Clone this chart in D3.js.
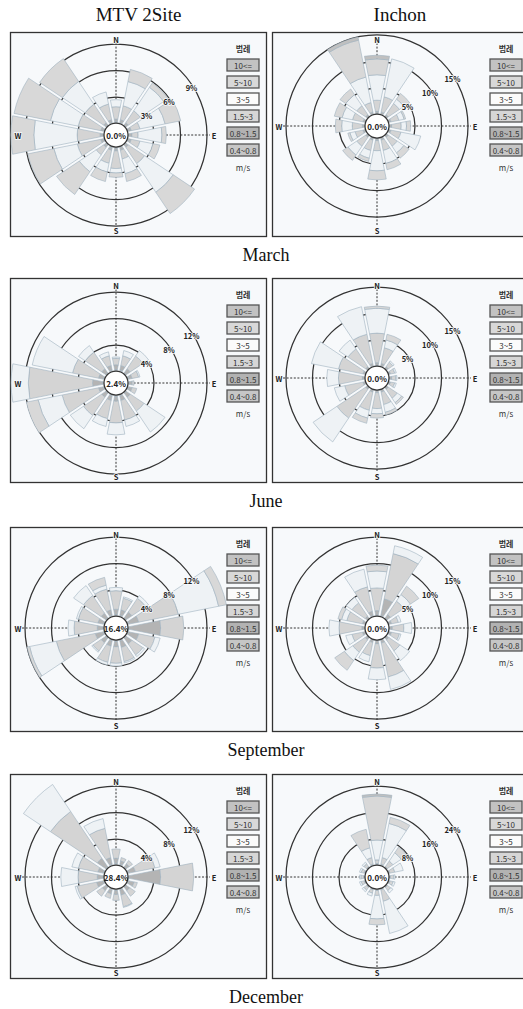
<!DOCTYPE html>
<html><head><meta charset="utf-8">
<script src="https://cdn.jsdelivr.net/npm/d3@7"></script>
<style>body{margin:0;background:#fff}</style>
</head><body>
<svg id="c" width="523" height="1009"></svg>
<script>
const directions = ["N","NNE","NE","ENE","E","ESE","SE","SSE","S","SSW","SW","WSW","W","WNW","NW","NNW"];
const speedClasses = ["0.4~0.8","0.8~1.5","1.5~3","3~5","5~10","10<="];
const legendLabels = ["10<=","5~10","3~5","1.5~3","0.8~1.5","0.4~0.8"];
const months = ["March","June","September","December"];
const sites = ["MTV 2Site","Inchon"];
const calmLabels = [["0.0%","0.0%"],["2.4%","0.0%"],["16.4%","0.0%"],["28.4%","0.0%"]];
const ringTicks = [[[3,6,9],[5,10,15]],[[4,8,12],[5,10,15]],[[4,8,12],[5,10,15]],[[4,8,12],[8,16,24]]];

// frequency (%) per direction (rows = directions), columns = speedClasses
const mtvMarch = [
 [0.2,0.3,1.4,0.8,0,0],[0.2,0.3,1.6,2.8,1.4,0],[0.2,0.3,1.6,3.2,0.6,0],[0.2,0.3,1.0,2.9,1.8,0],
 [0.2,0.3,0.7,2.7,0.5,0],[0.2,0.3,1.0,1.5,0.8,0],[0.2,0.3,2.2,3.9,2.9,0],[0.2,0.3,1.0,1.7,0.9,0],
 [0.2,0.3,2.0,0.5,0.5,0],[0.2,0.3,1.5,1.0,1.1,0],[0.2,0.3,1.0,2.3,3.1,0],[0.2,0.3,2.7,2.7,3.0,0],
 [0.2,0.3,2.6,4.9,2.6,0],[0.2,0.3,2.6,3.2,4.2,0],[0.2,0.3,2.5,3.1,3.1,0],[0.2,0.3,1.8,1.4,0,0]];
const inchonMarch = [
 [0.2,0.4,2.1,4.8,3.0,0.7],[0.2,0.4,2.9,7.3,0,0],[0.2,0.4,2.5,1.0,1.3,0],[0.2,0.4,1.5,1.0,0.3,0],
 [0.2,0.4,1.8,1.0,0.8,0],[0.2,0.4,1.9,3.8,0,0],[0.2,0.4,2.0,1.5,1.2,0],[0.2,0.4,2.0,2.5,1.2,0],
 [0.2,0.4,1.9,3.8,1.7,0],[0.2,0.4,2.0,1.5,0.6,0],[0.2,0.4,2.0,2.0,1.2,0],[0.2,0.4,1.5,1.0,0.4,0],
 [0.2,0.4,1.9,2.0,1.2,0],[0.2,0.4,2.0,2.0,1.5,0],[0.2,0.4,2.0,2.5,1.3,0],[0.2,0.4,1.8,4.9,7.1,0.6]];
const mtvJune = [
 [0.3,0.7,1.0,0.2,0,0],[0.3,0.7,1.5,0.8,0,0],[0.3,0.7,2.3,1.0,0,0],[0.3,0.5,1.0,0.2,0,0],
 [0.3,0.4,0.3,0,0,0],[0.3,0.5,0.7,0,0,0],[0.3,0.7,2.5,3.8,0,0],[0.3,0.7,3.0,1.0,0,0],
 [0.3,0.7,3.3,1.8,0,0],[0.3,0.7,2.8,1.2,0,0],[0.3,0.7,3.3,2.4,0,0],[0.3,0.7,5.6,3.7,1.8,0],
 [0.3,1.5,9.7,2.6,0,0],[0.3,0.7,4.0,6.2,0,0],[0.3,0.7,3.0,1.2,0,0],[0.3,0.7,1.5,0.6,0,0]];
const inchonJune = [
 [0.2,0.5,5.6,4.7,0.4,0],[0.2,0.5,3.0,1.5,1.1,0],[0.2,0.4,1.0,0.3,0,0],[0.2,0.3,0.8,0.3,0,0],
 [0.2,0.4,0.8,0.2,0,0],[0.2,0.3,0.8,0.3,0,0],[0.2,0.4,2.0,1.0,0.4,0],[0.2,0.4,2.4,1.5,0.5,0],
 [0.2,0.4,3.0,1.0,0.8,0],[0.2,0.4,3.5,1.5,1.0,0],[0.2,0.4,6.5,5.4,0,0],[0.2,0.4,3.5,2.0,0,0],
 [0.2,0.4,4.5,2.2,0,0],[0.2,0.4,4.7,5.2,0,0],[0.2,0.4,4.0,2.0,0,0],[0.2,0.5,5.6,5.3,0,0]];
const mtvSeptember = [
 [0.3,0.8,2.8,0.5,0,0],[0.3,0.8,1.8,0.2,0,0],[0.3,1.0,2.5,0.5,0,0],[0.3,1.5,6.1,6.2,1.2,0],
 [0.3,4.7,3.5,0,0,0],[0.3,1.5,2.5,0.8,0,0],[0.3,1.0,2.0,0.3,0,0],[0.3,1.0,2.2,0.2,0,0],
 [0.3,0.8,2.5,0.4,0,0],[0.3,0.8,2.5,0.4,0,0],[0.3,0.8,1.5,0.2,0,0],[0.3,1.2,6.0,4.1,0.4,0],
 [0.3,0.8,3.5,0.9,0,0],[0.3,0.8,3.0,0.3,0,0],[0.3,0.8,3.2,1.8,0,0],[0.3,0.8,3.2,0.6,1.2,0]];
const inchonSeptember = [
 [0.3,0.8,4.3,3.2,1.1,0],[0.3,3.2,8.7,1.5,0,0],[0.3,0.8,3.0,1.5,1.9,0],[0.2,0.5,1.3,0.5,0,0],
 [0.2,0.5,2.2,1.5,0,0],[0.2,0.5,1.5,0.3,0,0],[0.2,0.5,2.5,2.2,0,0],[0.2,0.6,6.5,2.4,0,0],
 [0.2,0.6,4.6,2.2,0,0],[0.2,0.5,2.5,1.2,0,0],[0.2,0.5,2.8,1.9,2.2,0],[0.2,0.5,2.0,1.2,0,0],
 [0.2,0.5,4.3,1.9,0,0],[0.2,0.5,3.0,1.0,0.7,0],[0.2,0.5,3.0,1.3,0,0],[0.3,0.8,4.7,3.4,0,0]];
const mtvDecember = [
 [0.3,0.8,1.4,0,0,0],[0.3,0.5,0.5,0,0,0],[0.3,0.5,0.6,0,0,0],[0.3,1.0,3.0,0.8,0,0],
 [0.3,4.7,5.0,0,0,0],[0.3,0.8,0.5,0,0,0],[0.3,0.6,1.0,0,0,0],[0.3,0.8,1.8,0.1,0,0],
 [0.3,0.6,0.9,0,0,0],[0.3,0.6,0.7,0,0,0],[0.3,0.6,1.0,0,0,0],[0.3,1.0,3.0,0.3,0,0],
 [0.3,0.8,2.9,2.6,0,0],[0.3,0.8,3.0,1.0,0,0],[0.3,1.5,8.5,4.9,0,0],[0.3,1.0,4.5,1.5,0,0]];
const inchonDecember = [
 [0.2,0.4,1.1,6.0,13.3,0.6],[0.2,0.4,2.0,10.5,1.9,0],[0.2,0.4,2.0,3.0,2.1,0],[0.2,0.4,1.5,2.6,0,0],
 [0.2,0.4,1.0,0.4,0,0],[0.2,0.4,1.0,0.6,0,0],[0.2,0.4,1.2,0.8,0,0],[0.2,0.4,3.5,9.9,0,0],
 [0.2,0.4,1.5,7.1,1.8,0],[0.2,0.4,1.0,0.9,0,0],[0.2,0.4,1.0,0.6,0,0],[0.2,0.4,0.9,0.5,0,0],
 [0.2,0.4,0.8,0.4,0,0],[0.2,0.4,0.9,0.5,0,0],[0.2,0.4,1.0,0.6,0,0],[0.2,0.4,2.0,3.0,5.7,0]];

const siteData = [[mtvMarch, inchonMarch],[mtvJune, inchonJune],[mtvSeptember, inchonSeptember],[mtvDecember, inchonDecember]];

const classFill = {"0.4~0.8":"#c4c4c4","0.8~1.5":"#b4b4b4","1.5~3":"#d4d4d4","3~5":"#eef2f5","5~10":"#d8d8d8","10<=":"#c0c0c0"};
const legendFill = {"0.4~0.8":"#c6c6c6","0.8~1.5":"#b2b2b2","1.5~3":"#d6d6d6","3~5":"#fbfbfb","5~10":"#d8d8d8","10<=":"#c2c2c2"};

const svg = d3.select("#c");
const panelTops = [32, 278, 527, 774];
const panelH = 205;
const cols = [{x0:10,x1:267,cx:116,lx:227},{x0:272,x1:528,cx:377,lx:490}];
const cyOff = [[103,94],[105,100],[101,101],[103,103]];
const R0 = 11.5, R1 = 91, CALM_R = 12;
const BG = "#f7f9fb";
const labFont = "'Noto Sans CJK KR','DejaVu Sans',sans-serif";
const serif = "'Liberation Serif','DejaVu Serif',serif";

const arc = d3.arc().padAngle(0.026).padRadius(100);
const half = Math.PI / 16;

sites.forEach((s, j) => {
  svg.append("text").attr("x", (cols[j].x0 + cols[j].x1) / 2).attr("y", 21)
    .attr("text-anchor", "middle").attr("font-family", serif).attr("font-size", 19)
    .attr("fill", "#111").text(s);
});

months.forEach((m, i) => {
  const top = panelTops[i];
  svg.append("text").attr("x", 266).attr("y", top + panelH + 24)
    .attr("text-anchor", "middle").attr("font-family", serif).attr("font-size", 18)
    .attr("fill", "#111").text(m);

  cols.forEach((c, j) => {
    const data = siteData[i][j];
    const ticks = ringTicks[i][j];
    const cx = c.cx, cy = top + cyOff[i][j];
    const r = d3.scaleLinear().domain([0, ticks[ticks.length - 1]]).range([R0, R1]);
    const clipId = "clip" + i + j;
    svg.append("clipPath").attr("id", clipId).append("rect")
      .attr("x", c.x0).attr("y", top).attr("width", c.x1 - c.x0).attr("height", panelH);

    const g = svg.append("g");
    g.append("rect").attr("x", c.x0 + 0.5).attr("y", top + 0.5).attr("width", c.x1 - c.x0 - 1).attr("height", panelH - 1)
      .attr("fill", BG).attr("stroke", "#333").attr("stroke-width", 1.3);

    const inner = g.append("g").attr("clip-path", "url(#" + clipId + ")");
    ticks.forEach(t => {
      inner.append("circle").attr("cx", cx).attr("cy", cy).attr("r", r(t))
        .attr("fill", "none").attr("stroke", "#333").attr("stroke-width", 1.25);
    });
    inner.append("line").attr("x1", cx).attr("x2", cx).attr("y1", top + 11).attr("y2", top + panelH - 12)
      .attr("stroke", "#333").attr("stroke-width", 1).attr("stroke-dasharray", "2,1.6");
    inner.append("line").attr("y1", cy).attr("y2", cy).attr("x1", cx - R1 - 3).attr("x2", cx + R1 + 3)
      .attr("stroke", "#333").attr("stroke-width", 1).attr("stroke-dasharray", "2,1.6");

    const wg = inner.append("g").attr("transform", `translate(${cx},${cy})`);
    data.forEach((row, k) => {
      const a = k * 2 * Math.PI / directions.length;
      let cum = 0;
      row.forEach((v, ci) => {
        if (v <= 0) return;
        const seg = {innerRadius: r(cum), outerRadius: r(cum + v), startAngle: a - half, endAngle: a + half};
        cum += v;
        wg.append("path").attr("d", arc(seg))
          .attr("fill", classFill[speedClasses[ci]])
          .attr("stroke", "#9fb1bf").attr("stroke-width", 0.6);
      });
    });

    const b = 58 * Math.PI / 180;
    ticks.forEach(t => {
      const rr = r(t) - 2;
      inner.append("text").attr("x", cx + rr * Math.sin(b)).attr("y", cy - rr * Math.cos(b))
        .attr("text-anchor", "middle").attr("dominant-baseline", "central")
        .attr("font-family", labFont).attr("font-size", 7.5).attr("font-weight", "bold")
        .attr("fill", "#222").attr("stroke", BG).attr("stroke-width", 1.5).attr("paint-order", "stroke")
        .text(t + "%");
    });

    g.append("circle").attr("cx", cx).attr("cy", cy).attr("r", CALM_R)
      .attr("fill", "#fff").attr("stroke", "#333").attr("stroke-width", 1.25);
    g.append("text").attr("x", cx).attr("y", cy).attr("text-anchor", "middle").attr("dominant-baseline", "central")
      .attr("font-family", labFont).attr("font-size", 8).attr("font-weight", "bold").attr("fill", "#222")
      .text(calmLabels[i][j]);

    const comp = [["N", cx, top + 7], ["S", cx, top + panelH - 7], ["E", cx + R1 + 7, cy], ["W", cx - R1 - 7, cy]];
    comp.forEach(([t, x, y]) => {
      g.append("text").attr("x", x).attr("y", y).attr("text-anchor", "middle").attr("dominant-baseline", "central")
        .attr("font-family", labFont).attr("font-size", 7.5).attr("font-weight", "bold")
        .attr("fill", "#222").attr("stroke", BG).attr("stroke-width", 1.5).attr("paint-order", "stroke").text(t);
    });

    const lg = g.append("g");
    lg.append("text").attr("x", c.lx + 16).attr("y", top + 20).attr("text-anchor", "middle")
      .attr("font-family", labFont).attr("font-size", 8).attr("font-weight", "bold").attr("fill", "#333").text("범례");
    legendLabels.forEach((lab, mm) => {
      const y = top + 27 + mm * 17;
      lg.append("rect").attr("x", c.lx).attr("y", y).attr("width", 32).attr("height", 12)
        .attr("fill", legendFill[lab]).attr("stroke", "#555").attr("stroke-width", 1.3);
      lg.append("text").attr("x", c.lx + 16).attr("y", y + 6.5).attr("text-anchor", "middle").attr("dominant-baseline", "central")
        .attr("font-family", labFont).attr("font-size", 8).attr("fill", "#333").text(lab);
    });
    lg.append("text").attr("x", c.lx + 16).attr("y", top + 27 + 6 * 17 + 6).attr("text-anchor", "middle")
      .attr("dominant-baseline", "central")
      .attr("font-family", labFont).attr("font-size", 8).attr("fill", "#333").text("m/s");
  });
});
</script>
</body></html>
